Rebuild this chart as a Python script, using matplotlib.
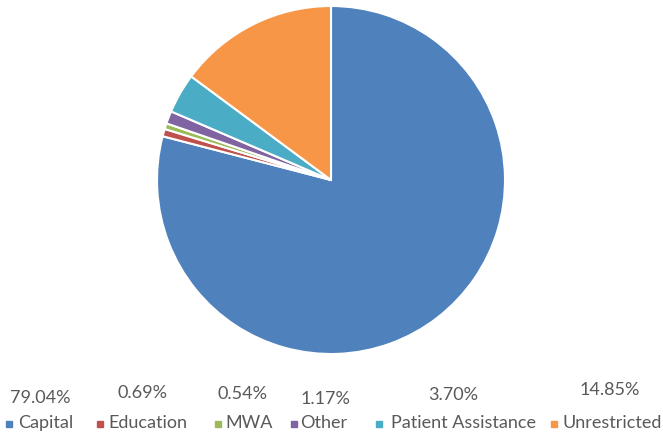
import matplotlib.pyplot as plt
from matplotlib.patches import Rectangle

categories = ["Capital", "Education", "MWA", "Other", "Patient Assistance", "Unrestricted"]
shares = [79.04, 0.69, 0.54, 1.17, 3.70, 14.85]
pct_labels = ["79.04%", "0.69%", "0.54%", "1.17%", "3.70%", "14.85%"]
colors = ["#4F81BD", "#C0504D", "#9BBB59", "#8064A2", "#4BACC6", "#F79646"]

# layout of the bottom label row (pixels)
pct_x = [40, 142, 242, 325, 453, 610]
pct_y = [398, 393, 394, 399, 395, 390]
sq_x = [6, 97, 215, 291, 376, 551]
txt_x = [18, 108, 225, 300, 391, 563]

W, H = 663, 434
fig = plt.figure(figsize=(W / 100, H / 100), dpi=100)
fig.patch.set_facecolor("white")
plt.rcParams['font.family'] = ['Lato', 'DejaVu Sans']

ax = fig.add_axes([157 / W, (H - 354) / H, 348 / W, 348 / H])
ax.pie(shares, colors=colors, startangle=90, counterclock=False,
       wedgeprops=dict(edgecolor="white", linewidth=1.5))
ax.set_xlim(-1, 1)
ax.set_ylim(-1, 1)
ax.set_aspect("equal")
ax.axis("off")

for lab, x, y in zip(pct_labels, pct_x, pct_y):
    fig.text(x / W, 1 - y / H, lab, ha="center", va="center",
             fontsize=13, color="#595959")

for cat, col, sx, tx in zip(categories, colors, sq_x, txt_x):
    fig.patches.append(Rectangle((sx / W, 1 - 427 / H), 6 / W, 6 / H,
                                 transform=fig.transFigure, color=col))
    fig.text(tx / W, 1 - 423 / H, cat, ha="left", va="center",
             fontsize=13, color="#595959")

fig.savefig("out.png", dpi=100)
